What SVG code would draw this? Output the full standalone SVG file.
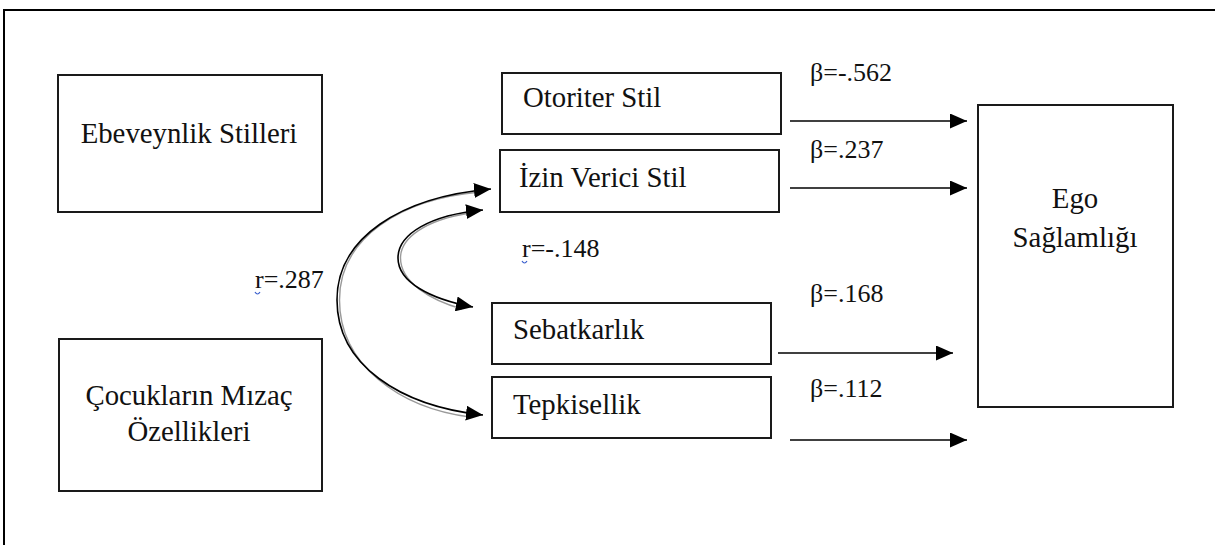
<svg xmlns="http://www.w3.org/2000/svg" width="1215" height="545" viewBox="0 0 1215 545">
<style>
.box{fill:#fff;stroke:#1a1a1a;stroke-width:2}
.t{font-family:'Liberation Serif',Tinos,'Times New Roman',Times,serif;font-size:28.8px;fill:#111}
.lb{font-family:'Liberation Serif',Tinos,'Times New Roman',Times,serif;font-size:26px;fill:#111}
.c{fill:none;stroke:#000;stroke-width:1.6}
.cs{fill:none;stroke:#9a9a9a;stroke-width:1.4}
</style>
<defs>
<marker id="ah" markerUnits="userSpaceOnUse" markerWidth="19" markerHeight="15" refX="17" refY="7.5" orient="auto">
<path d="M0,0 L17,7.5 L0,15 Z" fill="#000"/>
</marker>
</defs>
<rect width="1215" height="545" fill="#fff"/>
<path d="M4,545 V10 H1215" fill="none" stroke="#000" stroke-width="2"/>
<g id="n-ebeveynlik">
<rect class="box" x="58" y="75" width="264" height="137"/>
<text class="t" x="189" y="143" text-anchor="middle">Ebeveynlik Stilleri</text>
</g>
<g id="n-cocuk">
<rect class="box" x="59" y="339" width="263" height="152"/>
<text class="t" x="189" y="405" text-anchor="middle">Çocukların Mızaç</text>
<text class="t" x="189" y="441" text-anchor="middle">Özellikleri</text>
</g>
<g id="n-otoriter">
<rect class="box" x="502" y="73" width="279" height="61"/>
<text class="t" x="523" y="107">Otoriter Stil</text>
</g>
<g id="n-izin">
<rect class="box" x="500" y="150" width="279" height="62"/>
<text class="t" x="519" y="187">İzin Verici Stil</text>
</g>
<g id="n-sebat">
<rect class="box" x="492" y="303" width="279" height="61"/>
<text class="t" x="513" y="339">Sebatkarlık</text>
</g>
<g id="n-tepki">
<rect class="box" x="492" y="377" width="279" height="61"/>
<text class="t" x="513" y="414">Tepkisellik</text>
</g>
<g id="n-ego">
<rect class="box" x="978" y="105" width="195" height="302"/>
<text class="t" x="1075" y="208" text-anchor="middle">Ego</text>
<text class="t" x="1075" y="247" text-anchor="middle">Sağlamlığı</text>
</g>
<g id="connectors">
<line x1="790" y1="121" x2="967" y2="121" stroke="#000" stroke-width="1.6" marker-end="url(#ah)"/>
<line x1="790" y1="188" x2="967" y2="188" stroke="#000" stroke-width="1.6" marker-end="url(#ah)"/>
<line x1="778" y1="353" x2="953" y2="353" stroke="#000" stroke-width="1.6" marker-end="url(#ah)"/>
<line x1="790" y1="440" x2="967" y2="440" stroke="#000" stroke-width="1.6" marker-end="url(#ah)"/>
<path class="cs" d="M480,192 C400,199 339.5,238 339.5,300 C339.5,365 400,408 470,417"/>
<path class="c" d="M337,300 C337,238 400,197 491,189" marker-end="url(#ah)"/>
<path class="c" d="M337,300 C337,365 400,406 483,415" marker-end="url(#ah)"/>
<path class="cs" d="M470,213 C425,220 400.5,238 400.5,258 C400.5,282 430,300 462,309"/>
<path class="c" d="M398,258 C398,234 430,215 483,210" marker-end="url(#ah)"/>
<path class="c" d="M398,258 C398,282 430,299 473,307" marker-end="url(#ah)"/>
</g>
<g id="labels">
<text class="lb" x="810" y="81">β=-.562</text>
<text class="lb" x="810" y="158">β=.237</text>
<text class="lb" x="810" y="302">β=.168</text>
<text class="lb" x="810" y="397">β=.112</text>
<text class="lb" x="255" y="288">r=.287</text>
<text class="lb" x="522" y="257">r=-.148</text>
<path d="M255,292 q2.5,4 5,0" fill="none" stroke="#3a5fcd" stroke-width="1.2"/>
<path d="M522,261 q2.5,4 5,0" fill="none" stroke="#3a5fcd" stroke-width="1.2"/>
</g>
</svg>
